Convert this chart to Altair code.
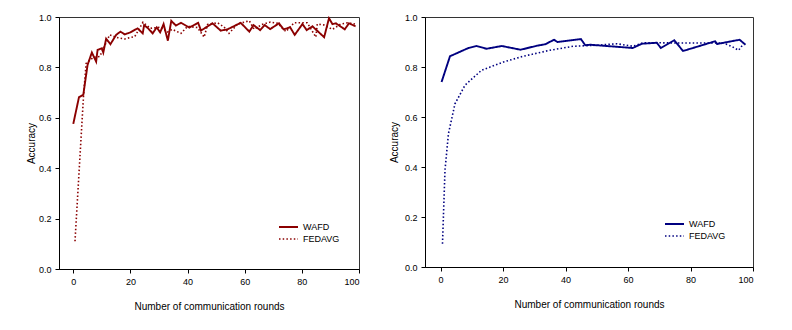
import altair as alt
import pandas as pd

series_names = ["WAFD", "FEDAVG"]
x_ticks = [0, 20, 40, 60, 80, 100]
y_ticks = [0.0, 0.2, 0.4, 0.6, 0.8, 1.0]

# Left panel
left_wafd_round = [0, 2, 3.5, 5, 6.5, 8, 8.5, 10, 10.5, 11.5, 13, 15, 16.5, 18, 20, 22.5, 24.3,
                   24.8, 26.2, 27.8, 29.2, 30.4, 31.6, 33.1, 34.3, 35.9, 37.7, 40.6, 43.7, 44.7,
                   48.7, 51.6, 54, 58.6, 61.6, 63.1, 65.4, 67, 68.9, 72, 73.6, 75.9, 77.5, 80.2,
                   81.7, 83.7, 87.8, 89.5, 90.7, 91.9, 95, 96.5, 98.8]
left_wafd_acc = [0.576, 0.682, 0.691, 0.81, 0.859, 0.823, 0.869, 0.876, 0.859, 0.914, 0.892,
                 0.929, 0.942, 0.931, 0.939, 0.955, 0.935, 0.968, 0.955, 0.935, 0.959, 0.939,
                 0.972, 0.906, 0.985, 0.966, 0.977, 0.958, 0.977, 0.946, 0.975, 0.946, 0.951,
                 0.977, 0.942, 0.968, 0.948, 0.968, 0.952, 0.975, 0.951, 0.959, 0.929, 0.972,
                 0.948, 0.963, 0.920, 0.995, 0.972, 0.975, 0.951, 0.975, 0.963]
left_fed_round = [0.6, 3.6, 4.5, 7, 9.2, 9.8, 12.7, 15.6, 18, 19.7, 21.5, 24.4, 27, 30.6, 32.9,
                  34.6, 37.7, 40, 43.5, 45.8, 47, 50.5, 52.8, 54.5, 57.5, 61.6, 63.3, 66, 69,
                  71.5, 74.4, 77.3, 81.9, 84.9, 85.4, 87.8, 90.7, 93.6, 95.9, 98.8]
left_fed_acc = [0.11, 0.69, 0.816, 0.84, 0.843, 0.856, 0.929, 0.918, 0.913, 0.918, 0.922, 0.979,
                0.955, 0.96, 0.94, 0.951, 0.935, 0.963, 0.958, 0.92, 0.97, 0.977, 0.96, 0.935,
                0.972, 0.985, 0.951, 0.97, 0.98, 0.975, 0.942, 0.977, 0.977, 0.92, 0.972, 0.968,
                0.951, 0.972, 0.977, 0.972]

# Right panel
right_wafd_round = [0.3, 3, 8.9, 11.5, 14.7, 19.6, 25.6, 30.8, 33.5, 36.3, 37.4, 44.9, 46.3,
                    47.9, 61.5, 64.4, 69.2, 70.5, 74.8, 77.6, 87.9, 88.5, 95.7, 97.6]
right_wafd_acc = [0.74, 0.843, 0.876, 0.884, 0.873, 0.884, 0.869, 0.885, 0.891, 0.909, 0.9,
                  0.912, 0.887, 0.889, 0.876, 0.893, 0.897, 0.876, 0.907, 0.864, 0.903, 0.892,
                  0.909, 0.889]
right_fed_round = [0.6, 1.4, 2.5, 4.6, 7.8, 13.1, 20.1, 26.5, 35, 42.5, 50, 56.4, 61.5, 65,
                   69.2, 75.6, 85.3, 90.6, 93.5, 95.4, 96.6]
right_fed_acc = [0.093, 0.387, 0.533, 0.653, 0.727, 0.787, 0.82, 0.843, 0.867, 0.883, 0.887,
                 0.893, 0.883, 0.897, 0.897, 0.896, 0.896, 0.896, 0.88, 0.867, 0.887]


def make_df(wr, wa, fr, fa):
    a = pd.DataFrame({"round": wr, "acc": wa, "series": "WAFD"})
    b = pd.DataFrame({"round": fr, "acc": fa, "series": "FEDAVG"})
    return pd.concat([a, b], ignore_index=True)


def panel(df, color, width, height, lx, ly, ytitle_pad):
    leg = alt.Legend(title=None, orient="none", legendX=lx, legendY=ly,
                     symbolType="stroke", symbolSize=361, symbolStrokeWidth=1.6,
                     clipHeight=12, rowPadding=0, padding=0, labelOffset=4,
                     labelFontSize=9, labelColor="black", labelFont="Liberation Sans")
    return alt.Chart(df).mark_line().encode(
        x=alt.X("round:Q",
                scale=alt.Scale(domain=[-5, 100], nice=False, zero=False),
                axis=alt.Axis(values=x_ticks, title="Number of communication rounds",
                              titlePadding=15, labelPadding=4)),
        y=alt.Y("acc:Q",
                scale=alt.Scale(domain=[0, 1], nice=False),
                axis=alt.Axis(values=y_ticks, format=".1f", title="Accuracy",
                              titlePadding=ytitle_pad, labelPadding=4)),
        color=alt.Color("series:N", scale=alt.Scale(domain=series_names, range=[color, color]),
                        legend=leg),
        strokeDash=alt.StrokeDash("series:N",
                                  scale=alt.Scale(domain=series_names, range=[[1, 0], [1.5, 2.2]]),
                                  legend=leg),
        strokeWidth=alt.StrokeWidth("series:N",
                                    scale=alt.Scale(domain=series_names, range=[1.9, 1.6]),
                                    legend=None),
    ).properties(width=width, height=height)


left = panel(make_df(left_wafd_round, left_wafd_acc, left_fed_round, left_fed_acc),
             "#8B0000", 300, 252, 219, 204, 2)
right = panel(make_df(right_wafd_round, right_wafd_acc, right_fed_round, right_fed_acc),
              "#000080", 328, 250, 239, 201, 5)

chart = alt.hconcat(left, right, spacing=28).properties(
    padding={"left": 17, "top": 4, "right": 5, "bottom": 5}
).resolve_scale(color="independent", strokeDash="independent", strokeWidth="independent").configure_view(
    stroke="#333333", strokeWidth=1
).configure_axis(
    labelFont="Liberation Sans", titleFont="Liberation Sans", labelFontSize=9, titleFontSize=10,
    titleFontWeight="normal", labelColor="black", titleColor="black", domainColor="black",
    tickColor="black", tickSize=4, grid=False
)

chart.save("out.html", embed_options={"renderer": "svg", "actions": False})
